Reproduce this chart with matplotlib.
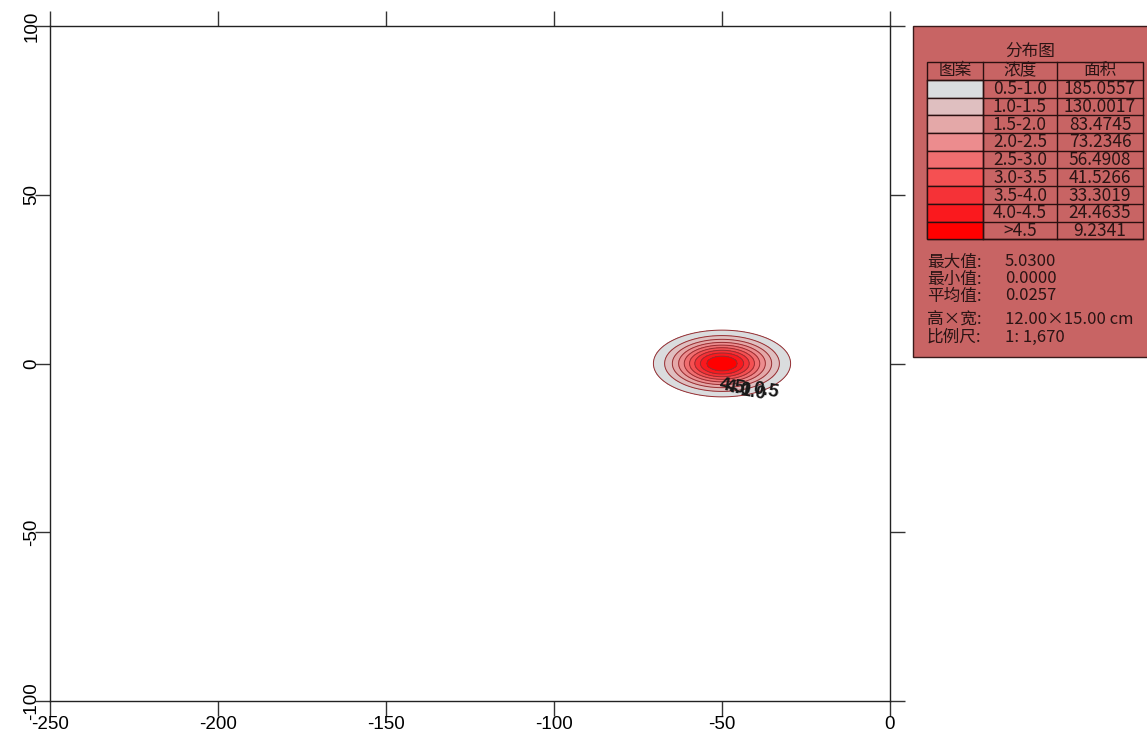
import numpy as np
import matplotlib
matplotlib.use("Agg")
import matplotlib.pyplot as plt
from matplotlib.patches import Rectangle

plt.rcParams['font.family'] = ['Liberation Sans', 'DejaVu Sans']
plt.rcParams['axes.unicode_minus'] = False
CJK = ['Noto Sans CJK SC', 'DejaVu Sans']

# ---- data ----
levels = [0.5, 1.0, 1.5, 2.0, 2.5, 3.0, 3.5, 4.0, 4.5, 5.03]
range_labels = ["0.5-1.0", "1.0-1.5", "1.5-2.0", "2.0-2.5", "2.5-3.0",
                "3.0-3.5", "3.5-4.0", "4.0-4.5", ">4.5"]
areas = ["185.0557", "130.0017", "83.4745", "73.2346", "56.4908",
         "41.5266", "33.3019", "24.4635", "9.2341"]
fill_colors = ["#dadcde", "#dfbfc0", "#e4a8a8", "#ec8c8e", "#f06e70",
               "#f55052", "#f53237", "#fa191e", "#ff0000"]
stats_labels = ["最大值:", "最小值:", "平均值:", "高×宽:", "比例尺:"]
stats_values = ["5.0300", "0.0000", "0.0257", "12.00×15.00 cm", "1: 1,670"]
peak = 5.03
center_x, center_y = -50.0, 0.0
sigma_x, sigma_y = 9.5, 4.6
xticks = [-250, -200, -150, -100, -50, 0]
yticks = [-100, -50, 0, 50, 100]
contour_label_texts = ["4.5", "4.0", "1.0", "0.5"]
contour_label_x = [-47.0, -45.0, -40.5, -37.0]
contour_label_y = [-6.8, -7.6, -8.6, -8.0]

# ---- figure ----
W, H = 1147, 735
fig = plt.figure(figsize=(W / 100, H / 100), dpi=100)
ax = fig.add_axes([50 / W, 1 - 701 / H, 840 / W, 675 / H])

gx = np.linspace(-250, 0, 1001)
gy = np.linspace(-100, 100, 801)
X, Y = np.meshgrid(gx, gy)
Z = peak * np.exp(-(((X - center_x) / sigma_x) ** 2 / 2 + ((Y - center_y) / sigma_y) ** 2 / 2))

ax.contourf(X, Y, Z, levels=levels, colors=fill_colors)
ax.contour(X, Y, Z, levels=levels[:-1], colors="#962e32", linewidths=0.7)
for t, lx, ly in zip(contour_label_texts, contour_label_x, contour_label_y):
    ax.text(lx, ly, t, fontsize=13.5, color="#181818", rotation=-10,
            ha="center", va="center", fontweight="bold")

ax.set_xlim(-250, 0)
ax.set_ylim(-100, 100)
ax.set_xticks(xticks)
ax.set_yticks(yticks)
ax.tick_params(axis="both", which="both", direction="out", length=11, width=1,
               top=True, right=True, labelsize=13.5, color="#333333")
ax.tick_params(axis="x", pad=0)
ax.tick_params(axis="y", pad=-4, labelrotation=90)
for lab in ax.get_yticklabels():
    lab.set_va("center")
for s in ax.spines.values():
    s.set_color("#222222")
    s.set_linewidth(1)

# ---- legend panel (pixel coordinates) ----
lx0, ly0, lx1, ly1 = 913, 26, 1147, 358
lg = fig.add_axes([lx0 / W, 1 - ly1 / H, (lx1 - lx0) / W, (ly1 - ly0) / H])
lg.set_xlim(lx0, lx1)
lg.set_ylim(ly1, ly0)
lg.axis("off")
lg.add_patch(Rectangle((lx0 + 0.5, ly0 + 0.5), lx1 - lx0 + 2, ly1 - ly0 - 1,
                       facecolor="#c86464", edgecolor="#3a1a1a", lw=1.0, clip_on=False))
txt_col = "#2a1414"
fs = 12
lg.text(1030, 51, "分布图", fontsize=fs, family=CJK, color=txt_col, ha="center", va="center")

c0, c1, c2, c3 = 927, 983, 1057, 1143
top, hdr_h, row_h = 62, 18, 17.7
lg.add_patch(Rectangle((c0, top), c3 - c0, hdr_h + row_h * 9, fill=False,
                       edgecolor="#2a1010", lw=1))
for xv in (c1, c2):
    lg.plot([xv, xv], [top, top + hdr_h + row_h * 9], color="#2a1010", lw=1)
lg.plot([c0, c3], [top + hdr_h, top + hdr_h], color="#2a1010", lw=1)
for xc, t in zip([(c0 + c1) / 2, (c1 + c2) / 2, (c2 + c3) / 2], ["图案", "浓度", "面积"]):
    lg.text(xc, top + hdr_h / 2, t, fontsize=fs, family=CJK, color=txt_col, ha="center", va="center")
for i, (rl, ar, fc) in enumerate(zip(range_labels, areas, fill_colors)):
    y0 = top + hdr_h + i * row_h
    lg.add_patch(Rectangle((c0, y0), c1 - c0, row_h, facecolor=fc, edgecolor="#2a1010", lw=1))
    lg.plot([c1, c3], [y0 + row_h, y0 + row_h], color="#2a1010", lw=1)
    lg.text((c1 + c2) / 2, y0 + row_h / 2 + 0.5, rl, fontsize=12.5, family=CJK, color=txt_col, ha="center", va="center")
    lg.text((c2 + c3) / 2, y0 + row_h / 2 + 0.5, ar, fontsize=12.5, family=CJK, color=txt_col, ha="center", va="center")

stat_y = [262, 279, 296, 320, 337]
for sl, sv, yv in zip(stats_labels, stats_values, stat_y):
    lg.text(927, yv, sl, fontsize=fs, family=CJK, color=txt_col, ha="left", va="center")
    lg.text(1005, yv, sv, fontsize=fs, family=CJK, color=txt_col, ha="left", va="center")

fig.savefig("out.png", dpi=100)
